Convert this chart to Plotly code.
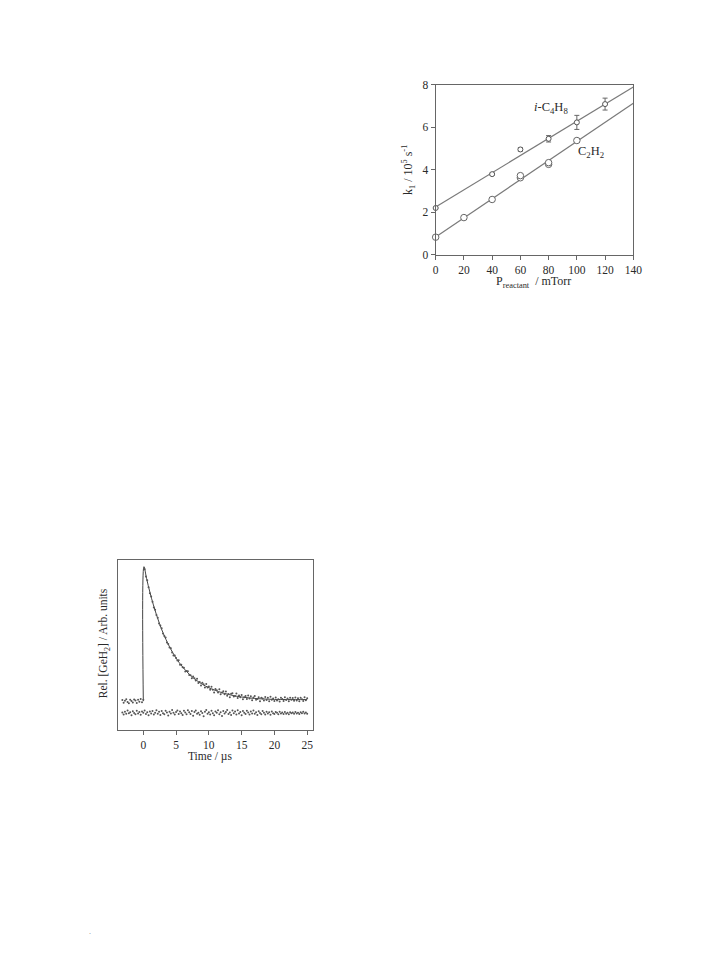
import numpy as np
import plotly.graph_objects as go

W, H = 720, 957

# ---------------- top chart data (k1 vs pressure) ----------------
p_ic4h8 = [0, 40, 60, 80, 100, 120]
k_ic4h8 = [2.2, 3.79, 4.95, 5.45, 6.22, 7.08]
err_ic4h8 = [0.0, 0.05, 0.08, 0.15, 0.33, 0.28]

p_c2h2 = [0, 20, 40, 60, 60, 80, 80, 100]
k_c2h2 = [0.83, 1.75, 2.6, 3.62, 3.72, 4.25, 4.33, 5.37]

fit_p = [0, 140]
fit_ic4h8 = [2.25, 7.88]
fit_c2h2 = [0.84, 7.12]

x_ticks_top = [0, 20, 40, 60, 80, 100, 120, 140]
y_ticks_top = [0, 2, 4, 6, 8]

# ---------------- bottom chart data (GeH2 decay trace) ----------------
t_start, t_step = -3.2, 0.2
signal = [
    0.008, -0.012, 0.004, 0.015, -0.006, -0.015, 0.010, 0.002, -0.009, 0.013,
    0.005, -0.013, 0.011, -0.004, 0.016, -0.008, 0.010,
    0.981, 0.927, 0.899, 0.847, 0.803, 0.779, 0.740, 0.696, 0.680, 0.641,
    0.620, 0.577, 0.562, 0.542, 0.504, 0.485, 0.474, 0.436, 0.425, 0.400,
    0.394, 0.362, 0.340, 0.339, 0.321, 0.302, 0.304, 0.270, 0.271, 0.252,
    0.249, 0.221, 0.224, 0.222, 0.195, 0.192, 0.171, 0.183, 0.171, 0.154,
    0.166, 0.136, 0.142, 0.116, 0.137, 0.126, 0.102, 0.128, 0.101, 0.109,
    0.085, 0.107, 0.085, 0.065, 0.091, 0.081, 0.064, 0.089, 0.052, 0.064,
    0.073, 0.051, 0.072, 0.040, 0.054, 0.029, 0.055, 0.058, 0.034, 0.039,
    0.057, 0.023, 0.042, 0.029, 0.045, 0.014, 0.030, 0.038, 0.016, 0.042,
    0.019, 0.036, 0.007, 0.027, 0.038, 0.010, 0.017, 0.030, 0.000, 0.026,
    0.019, 0.005, 0.031, 0.009, 0.025, 0.000, 0.033, 0.011, 0.020, 0.001,
    0.028, 0.005, 0.014, -0.003, 0.025, 0.017, 0.002, 0.029, 0.008, 0.020,
    -0.001, 0.026, 0.011, 0.023, 0.003, 0.028, 0.005, 0.021, 0.000, 0.025,
    0.014, 0.002, 0.030, 0.007, 0.022,
]
blank = [
    -0.085, -0.100, -0.078, -0.094, -0.070, -0.090, -0.082, -0.105, -0.075, -0.088,
    -0.098, -0.072, -0.092, -0.080, -0.101, -0.076, -0.087, -0.069, -0.095, -0.083,
    -0.104, -0.077, -0.091, -0.073, -0.099, -0.086, -0.068, -0.093, -0.079, -0.102,
    -0.074, -0.089, -0.097, -0.071, -0.084, -0.106, -0.078, -0.092, -0.066, -0.087,
    -0.100, -0.081, -0.070, -0.095, -0.076, -0.090, -0.103, -0.072, -0.085, -0.098,
    -0.067, -0.083, -0.096, -0.074, -0.108, -0.080, -0.069, -0.093, -0.086, -0.101,
    -0.075, -0.088, -0.112, -0.079, -0.065, -0.094, -0.082, -0.099, -0.071, -0.090,
    -0.104, -0.077, -0.086, -0.068, -0.097, -0.083, -0.110, -0.073, -0.091, -0.080,
    -0.066, -0.095, -0.085, -0.102, -0.070, -0.089, -0.076, -0.099, -0.068, -0.092,
    -0.081, -0.105, -0.074, -0.087, -0.096, -0.072, -0.084, -0.100, -0.077, -0.091,
    -0.069, -0.094, -0.082, -0.103, -0.075, -0.088, -0.097, -0.073, -0.086, -0.099,
    -0.078, -0.092, -0.083, -0.101, -0.076, -0.089, -0.095, -0.080, -0.087, -0.098,
    -0.079, -0.091, -0.084, -0.096, -0.081, -0.093, -0.086, -0.097, -0.082, -0.090,
    -0.085, -0.094, -0.080, -0.092, -0.087, -0.096, -0.083, -0.089, -0.078, -0.091,
    -0.084, -0.093,
]
fit_t = [0, 0.1, 0.5, 1, 1.5, 2, 2.5, 3, 4, 5, 6, 7, 8, 9, 10, 12, 14, 16, 18, 20, 22, 25]
fit_v = [0, 1.0, 0.911, 0.811, 0.722, 0.643, 0.572, 0.509, 0.404, 0.320, 0.254, 0.201,
         0.159, 0.126, 0.100, 0.063, 0.039, 0.025, 0.017, 0.013, 0.012, 0.012]
x_ticks_bot = [0, 5, 10, 15, 20, 25]

t_sig = np.round(t_start + t_step * np.arange(len(signal)), 2)
t_blank = np.round(t_start + t_step * np.arange(len(blank)), 2)

# ---------------- layout helpers ----------------
def px_x(x):
    return x / W

def px_y(y):
    return 1 - y / H

SERIF = "Liberation Serif, Times New Roman, serif"
GREY = "#7a7a7a"
TXT = "#2a2a2a"

fig = go.Figure()

# top chart
fig.add_trace(go.Scatter(x=fit_p, y=fit_ic4h8, mode="lines",
                         line=dict(color=GREY, width=1.2), xaxis="x", yaxis="y",
                         showlegend=False, hoverinfo="skip"))
fig.add_trace(go.Scatter(x=fit_p, y=fit_c2h2, mode="lines",
                         line=dict(color=GREY, width=1.2), xaxis="x", yaxis="y",
                         showlegend=False, hoverinfo="skip"))
fig.add_trace(go.Scatter(x=p_ic4h8, y=k_ic4h8, mode="markers",
                         marker=dict(symbol="circle", size=5, color="white",
                                     line=dict(width=1, color="#555")),
                         error_y=dict(type="data", array=err_ic4h8, color="#666",
                                      thickness=1, width=2.5),
                         xaxis="x", yaxis="y", showlegend=False, cliponaxis=False))
fig.add_trace(go.Scatter(x=p_c2h2, y=k_c2h2, mode="markers",
                         marker=dict(symbol="circle", size=6.5, color="white",
                                     line=dict(width=1, color="#666")),
                         xaxis="x", yaxis="y", showlegend=False, cliponaxis=False))

# bottom chart
fig.add_trace(go.Scatter(x=fit_t, y=fit_v, mode="lines",
                         line=dict(color="#444", width=1, shape="spline"),
                         xaxis="x2", yaxis="y2", showlegend=False, hoverinfo="skip"))
fig.add_trace(go.Scatter(x=t_sig, y=signal, mode="markers",
                         marker=dict(size=2, color="#555"),
                         xaxis="x2", yaxis="y2", showlegend=False))
fig.add_trace(go.Scatter(x=t_blank, y=blank, mode="markers",
                         marker=dict(size=2, color="#555"),
                         xaxis="x2", yaxis="y2", showlegend=False))

axis_common = dict(showline=True, mirror=True, linecolor="#666", linewidth=1,
                   ticks="outside", ticklen=4, tickcolor="#666", showgrid=False,
                   zeroline=False, tickfont=dict(family=SERIF, size=11.5, color=TXT))

fig.update_layout(
    width=W, height=H,
    margin=dict(l=0, r=0, t=0, b=0),
    paper_bgcolor="white", plot_bgcolor="white",
    xaxis=dict(domain=[px_x(440), px_x(641)], range=[0, 140], tickvals=x_ticks_top,
               anchor="y", **axis_common),
    yaxis=dict(domain=[px_y(252), px_y(79.5)], range=[0, 8], tickvals=y_ticks_top,
               anchor="x", **axis_common),
    xaxis2=dict(domain=[px_x(116.7), px_x(315)], range=[-3.9, 25.85],
                tickvals=x_ticks_bot, anchor="y2", **axis_common),
    yaxis2=dict(domain=[px_y(733), px_y(561)], range=[-0.213, 1.05],
                anchor="x2", showline=True, mirror=True, linecolor="#666",
                linewidth=1, ticks="", showticklabels=False, showgrid=False,
                zeroline=False),
)

ann = [
    dict(text="<i>i</i>-C<sub>4</sub>H<sub>8</sub>", x=81.7, y=6.9, xref="x", yref="y",
         font=dict(family=SERIF, size=12.5, color=TXT)),
    dict(text="C<sub>2</sub>H<sub>2</sub>", x=110.3, y=4.81, xref="x", yref="y",
         font=dict(family=SERIF, size=12.5, color=TXT)),
    dict(text="k<sub>1</sub> / 10<sup>5</sup> s<sup>-1</sup>", x=px_x(413), y=px_y(166),
         xref="paper", yref="paper", textangle=-90,
         font=dict(family=SERIF, size=12, color=TXT)),
    dict(text="P<sub>reactant</sub>  / mTorr", x=px_x(539), y=px_y(280),
         xref="paper", yref="paper", font=dict(family=SERIF, size=12, color=TXT)),
    dict(text="Rel. [GeH<sub>2</sub>] / Arb. units", x=px_x(103), y=px_y(645),
         xref="paper", yref="paper", textangle=-90,
         font=dict(family=SERIF, size=11.5, color=TXT)),
    dict(text="Time / µs", x=px_x(210), y=px_y(760), xref="paper", yref="paper",
         font=dict(family=SERIF, size=11.5, color=TXT)),
    dict(text=".", x=px_x(88), y=px_y(937), xref="paper", yref="paper",
         font=dict(family=SERIF, size=8, color="#888")),
]
for a in ann:
    a.setdefault("showarrow", False)
    a.setdefault("xanchor", "center")
    a.setdefault("yanchor", "middle")
    fig.add_annotation(**a)

fig.write_html("out.html",
               config={"displayModeBar": False},
               post_script="document.body.style.margin='0px';"
                           "document.body.style.overflow='hidden';")
